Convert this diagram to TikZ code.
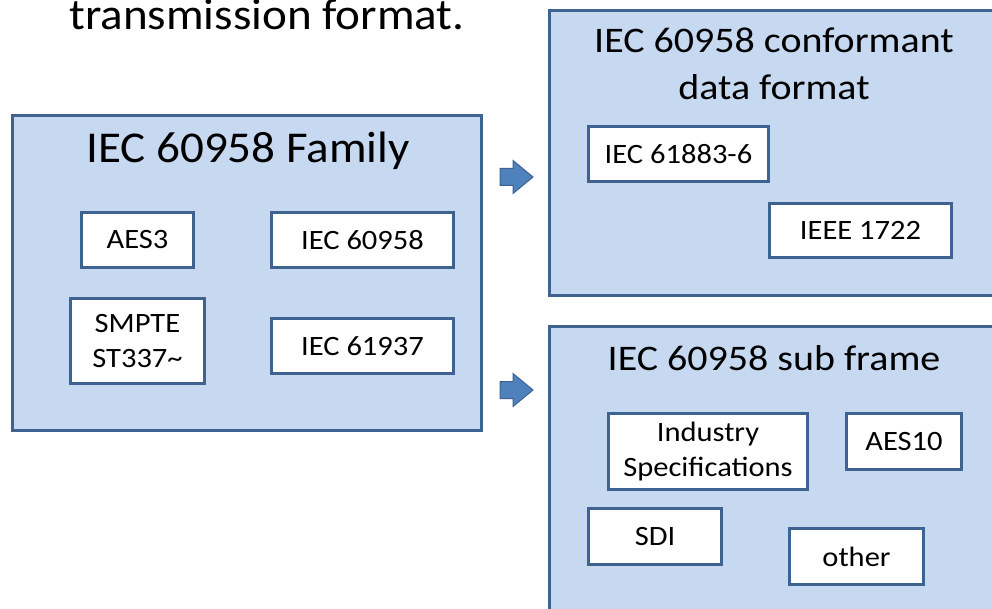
\documentclass[tikz,border=0pt]{standalone}
\usepackage{fontspec}
\setmainfont{Carlito}
\usepackage{tikz}
\usetikzlibrary{positioning, arrows.meta}

\definecolor{panelfill}{RGB}{198,217,241}
\definecolor{panelline}{RGB}{62,99,145}
\definecolor{arrowfill}{RGB}{79,129,189}

% wider setting of the text, as on screen
\newcommand{\wide}[1]{\addfontfeature{FakeStretch=#1}}

\tikzset{
	panel/.style={draw=panelline, fill=panelfill, line width=3pt, inner sep=0pt},
	item/.style={draw=panelline, fill=white, line width=3pt, inner sep=0pt,
		align=center, font=\fontsize{28}{35}\selectfont\wide{1.09}},
	heading/.style={font=\fontsize{44}{50}\selectfont\wide{1.07}, anchor=base, inner sep=0pt},
	subheading/.style={font=\fontsize{36}{47}\selectfont\wide{1.11}, anchor=base, inner sep=0pt},
	blockarrow/.style={draw=panelline, fill=arrowfill, line width=1pt, line join=miter}
}

\begin{document}
\begin{tikzpicture}[x=1pt, y=-1pt]
		\useasboundingbox (0,0) rectangle (992,609);
		\clip (0,0) rectangle (992,609);
		
		% line above the panels
		\node[heading] (caption) at (267,30) {transmission format.};
		
		% left panel
		\node[panel, minimum width=469pt, minimum height=315pt] (family) at (247,273) {};
		\node[heading] (familytitle) at (248,163) {IEC 60958 Family};
		\node[item, minimum width=112pt, minimum height=55pt] (aes3) at (137.5,240) {AES3};
		\node[item, minimum width=182pt, minimum height=55pt] (iec958) at (362.5,240) {IEC 60958};
		\node[item, minimum width=134pt, minimum height=85pt] (smpte) at (137.5,341) {SMPTE\\ST337\textasciitilde};
		\node[item, minimum width=182pt, minimum height=55pt] (iec937) at (362.5,346) {IEC 61937};
		
		% right panels, running off the edge
		\node[panel, minimum width=460pt, minimum height=285pt] (conform) at (779.5,153) {};
		\node[subheading] (conformtitle) at (774,53) {IEC 60958 conformant};
		\node[subheading] (conformtitleb) at (774,100) {data format};
		\node[item, minimum width=180pt, minimum height=55pt] (iec883) at (678.5,154) {IEC 61883-6};
		\node[item, minimum width=182pt, minimum height=54pt] (ieee) at (860.5,230.5) {IEEE 1722};
		
		\node[panel, minimum width=460pt, minimum height=300pt] (subframe) at (779.5,476.5) {};
		\node[subheading] (subtitle) at (774,370) {IEC 60958 sub frame};
		\node[item, minimum width=199pt, minimum height=76pt] (industry) at (708,451.5) {Industry\\Specifications};
		\node[item, minimum width=115pt, minimum height=56pt] (aes10) at (904,441.5) {AES10};
		\node[item, minimum width=133pt, minimum height=56pt] (sdi) at (655,536.5) {SDI};
		\node[item, minimum width=134pt, minimum height=56pt] (other) at (856.5,556.5) {other};
		
		% block arrows between the panels
		\coordinate (toconform) at (500,177);
		\coordinate (tosubframe) at (500,390);
		\foreach \a in {toconform, tosubframe}
		\filldraw[blockarrow] (\a) ++(0,-8.5) -- ++(13,0) -- ++(0,-8) -- ++(20,16.5)
			-- ++(-20,16.5) -- ++(0,-8) -- ++(-13,0) -- cycle;
	\end{tikzpicture}
\end{document}
